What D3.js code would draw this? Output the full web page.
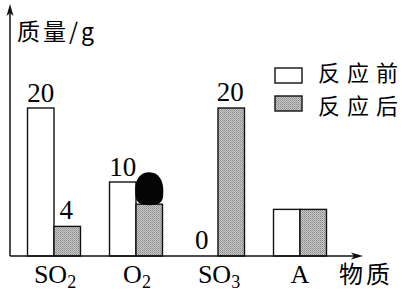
<!DOCTYPE html>
<html><head><meta charset="utf-8">
<script src="https://cdn.jsdelivr.net/npm/d3@7"></script>
<style>
html,body{margin:0;padding:0;background:#fff;}
svg{display:block;}
.num{font-family:"Liberation Serif","DejaVu Serif",serif;}
.cjk{font-family:"Noto Sans CJK SC",sans-serif;}
</style></head>
<body><svg id="c" width="408" height="294"></svg>
<script>
// ---- data ----
const categories = ["SO2", "O2", "SO3", "A"];
const tickMain = ["SO", "O", "SO", "A"];
const tickSub = ["2", "2", "3", ""];
const seriesNames = ["反应前", "反应后"];
const before = [20, 10, 0, 6.3];
const after = [4, 7, 20, 6.3];
const beforeLabels = ["20", "10", "0", ""];
const afterLabels = ["4", "", "20", ""];
const yTitle = "质量/g";
const xTitle = "物质";

const svg = d3.select("#c");
const x0 = 10, yBase = 256;
const y = d3.scaleLinear().domain([0, 20]).range([yBase, 108]);
const x = d3.scaleBand().domain(categories).range([13, 341]).paddingInner(0.354).paddingOuter(0.177);
const xs = d3.scaleBand().domain(["b", "a"]).range([0, x.bandwidth()]);

// pattern for gray fill
const defs = svg.append("defs");
const pat = defs.append("pattern").attr("id", "dots").attr("width", 2).attr("height", 2).attr("patternUnits", "userSpaceOnUse");
pat.append("rect").attr("width", 2).attr("height", 2).attr("fill", "#c9c9c9");
pat.append("rect").attr("width", 1).attr("height", 1).attr("fill", "#8a8a8a");
pat.append("rect").attr("x", 1).attr("y", 1).attr("width", 1).attr("height", 1).attr("fill", "#a0a0a0");

const rows = categories.map((c, i) => ({c, i, b: before[i], a: after[i]}));

// bars
const g = svg.append("g");
rows.forEach(d => {
  if (d.b > 0) g.append("rect").attr("x", x(d.c) + xs("b")).attr("y", y(d.b))
    .attr("width", xs.bandwidth()).attr("height", y(0) - y(d.b))
    .attr("fill", "#fff").attr("stroke", "#111").attr("stroke-width", 1.4);
  if (d.a > 0) g.append("rect").attr("x", x(d.c) + xs("a")).attr("y", y(d.a))
    .attr("width", xs.bandwidth()).attr("height", y(0) - y(d.a))
    .attr("fill", "url(#dots)").attr("stroke", "#111").attr("stroke-width", 1.4);
});

// ink blot over O2 after bar
{
  const cx = x("O2") + xs("a") + xs.bandwidth() / 2;
  const cy = y(after[1]) - 15;
  svg.append("path")
    .attr("d", `M${cx-14},${cy+4} C${cx-15},${cy-10} ${cx-9},${cy-17} ${cx},${cy-17} C${cx+10},${cy-17} ${cx+15},${cy-8} ${cx+14},${cy+5} C${cx+14},${cy+13} ${cx+10},${cy+16} ${cx},${cy+16} C${cx-9},${cy+16} ${cx-14},${cy+13} ${cx-14},${cy+4} Z`)
    .attr("fill", "#050505");
}

// value labels
rows.forEach(d => {
  if (beforeLabels[d.i]) svg.append("text").attr("class", "num")
    .attr("x", x(d.c) + xs("b") + xs.bandwidth() / 2 - (d.b === 0 ? 3 : 0))
    .attr("y", y(d.b) - (d.b === 0 ? 7 : 6)).attr("text-anchor", "middle")
    .attr("font-size", 27).text(beforeLabels[d.i]);
  if (afterLabels[d.i]) svg.append("text").attr("class", "num")
    .attr("x", x(d.c) + xs("a") + xs.bandwidth() / 2 - 1)
    .attr("y", y(d.a) - 7).attr("text-anchor", "middle")
    .attr("font-size", 27).text(afterLabels[d.i]);
});

// axes
const axisColor = "#111";
svg.append("line").attr("x1", x0).attr("y1", yBase).attr("x2", x0).attr("y2", 10)
  .attr("stroke", axisColor).attr("stroke-width", 1.5);
svg.append("path").attr("d", `M${x0},4 L${x0-3.5},16 L${x0},13 L${x0+3.5},16 Z`).attr("fill", axisColor);
svg.append("line").attr("x1", x0).attr("y1", yBase).attr("x2", 356).attr("y2", yBase)
  .attr("stroke", axisColor).attr("stroke-width", 1.5);
svg.append("path").attr("d", `M363,${yBase} L351,${yBase-3.5} L354,${yBase} L351,${yBase+3.5} Z`).attr("fill", axisColor);

// category tick labels
rows.forEach(d => {
  const t = svg.append("text").attr("class", "num")
    .attr("x", x(d.c) + x.bandwidth() / 2 + (tickSub[d.i] ? 1 : 0)).attr("y", 283)
    .attr("text-anchor", "middle").attr("font-size", 26);
  t.append("tspan").text(tickMain[d.i]);
  if (tickSub[d.i]) t.append("tspan").attr("dy", 5).attr("font-size", 18).text(tickSub[d.i]);
});

// titles
svg.append("text").attr("class", "cjk").attr("x", 17).attr("y", 40).attr("font-size", 23)
  .attr("letter-spacing", 3).text(yTitle);
svg.append("text").attr("class", "cjk").attr("x", 339).attr("y", 283).attr("font-size", 24)
  .attr("letter-spacing", 3).text(xTitle);

// legend
const legY = [68, 96];
const legTextY = [81, 114];
seriesNames.forEach((s, i) => {
  svg.append("rect").attr("x", 275).attr("y", legY[i]).attr("width", 27).attr("height", 15)
    .attr("fill", i === 0 ? "#fff" : "url(#dots)").attr("stroke", "#111").attr("stroke-width", 1.4);
  svg.append("text").attr("class", "cjk").attr("x", 318).attr("y", legTextY[i])
    .attr("font-size", 22).attr("letter-spacing", 7).text(s);
});
</script></body></html>
